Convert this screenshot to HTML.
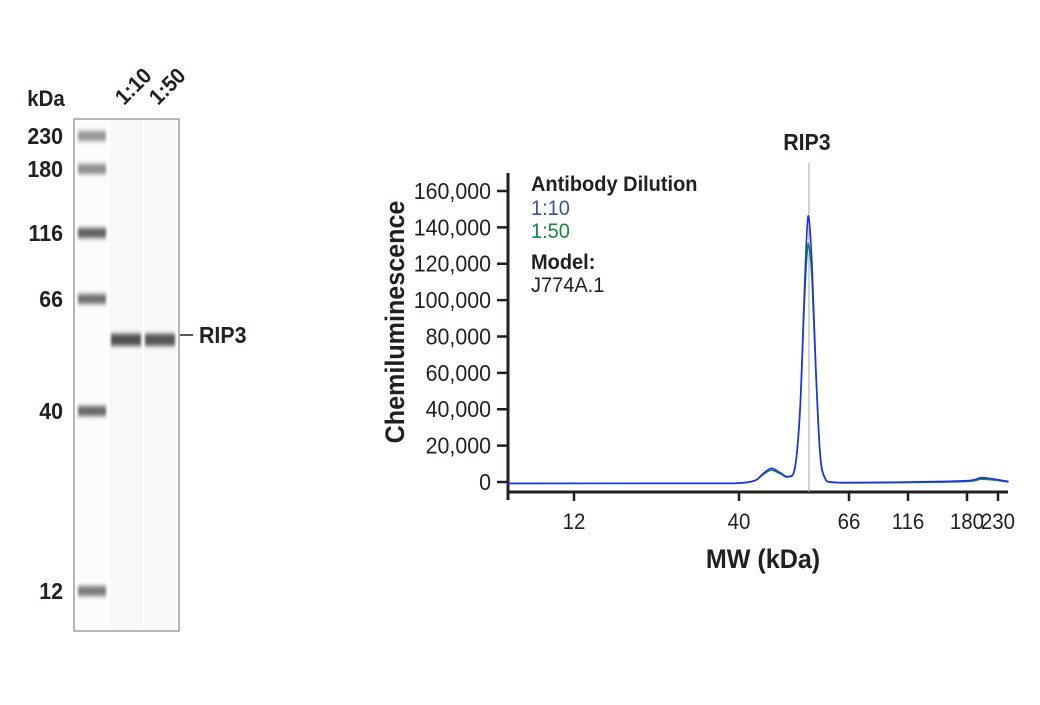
<!DOCTYPE html>
<html><head><meta charset="utf-8"><style>
body{margin:0;background:#fff;}
svg text{font-family:"Liberation Sans Narrow","Liberation Sans",sans-serif;fill:#231f20;}
</style></head><body>
<svg width="1040" height="700" viewBox="0 0 1040 700" xmlns="http://www.w3.org/2000/svg">
<defs>
<filter id="blur" x="-20%" y="-100%" width="140%" height="300%"><feGaussianBlur stdDeviation="1.2 2.4"/></filter>
</defs>
<g id="gel">
<rect x="74" y="119" width="105" height="512" fill="#fcfcfc" stroke="#888" stroke-width="1.2"/>
<rect x="110" y="120" width="32" height="510" fill="#f8f8f8"/>
<rect x="144" y="120" width="32" height="510" fill="#f8f8f8"/>
</g>
<text x="46" y="106" font-size="22" font-weight="bold" text-anchor="middle">kDa</text>
<text x="124" y="106" font-size="22" font-weight="bold" transform="rotate(-45 124 106)">1:10</text>
<text x="158" y="106" font-size="22" font-weight="bold" transform="rotate(-45 158 106)">1:50</text>
<line x1="180" y1="335" x2="193" y2="335" stroke="#231f20" stroke-width="1.5"/>
<text x="199" y="343" font-size="23" font-weight="bold">RIP3</text>
<g id="chart"></g>
</svg>
<script>
const ladderMW=[230,180,116,66,40,12];
const ladderIntensity=[0.55,0.6,0.85,0.75,0.8,0.7];
const sampleBandMW=55;
const sampleIntensity=[0.88,0.85];
const yTicks=[0,20000,40000,60000,80000,100000,120000,140000,160000];
const yTickLabels=["0","20,000","40,000","60,000","80,000","100,000","120,000","140,000","160,000"];
const xTicks=[12,40,66,116,180,230];
const xTickLabels=["12","40","66","116","180","230"];
const mw=[7.4,30,40,43,44.4,46.3,48.3,50,51.6,52.8,53.8,54.5,55,55.8,56.8,57.9,59.2,61.1,66,116,180,200,215,250];
const series1=[-800,-700,-600,800,4000,7500,5000,3000,8000,40000,100000,138000,145000,118000,60000,15000,2000,0,-300,0,700,2300,2000,300];
const series2=[-800,-700,-600,700,3600,6500,4500,2800,7500,38000,95000,125000,130000,110000,58000,14000,1800,-200,-500,-300,300,1500,1300,0];
const NS="http://www.w3.org/2000/svg";
function mk(tag,attrs,parent){const e=document.createElementNS(NS,tag);for(const k in attrs)e.setAttribute(k,attrs[k]);parent.appendChild(e);return e;}
const gelAnch=[[230,136],[180,169],[116,233],[66,299],[40,411],[12,591]];
function gelY(m){const l=Math.log(m);for(let i=0;i<gelAnch.length-1;i++){const a=gelAnch[i],b=gelAnch[i+1];if(l<=Math.log(a[0])&&l>=Math.log(b[0])||i==gelAnch.length-2){const t=(Math.log(a[0])-l)/(Math.log(a[0])-Math.log(b[0]));return a[1]+t*(b[1]-a[1]);}}}
const gel=document.getElementById('gel');
const svg=document.querySelector('svg');
ladderMW.forEach((m,i)=>{const y=gelY(m);const g=Math.round(255-ladderIntensity[i]*190);
 const r=mk('rect',{x:78,y:y-5,width:28,height:10,fill:`rgb(${g},${g},${g})`,filter:'url(#blur)'},gel);
 
 
 const t=mk('text',{x:63,y:y+8,'font-size':23,'font-weight':'bold','text-anchor':'end'},svg);t.textContent=m;
 
 
});
[111,145].forEach((x,i)=>{const y=gelY(sampleBandMW);const g=Math.round(255-sampleIntensity[i]*200);
 const r=mk('rect',{x:x,y:y-6,width:30,height:12,fill:`rgb(${g},${g},${g})`,filter:'url(#blur)'},gel);
 
 
});
const ch=document.getElementById('chart');
const xAnch=[[12,574],[40,739],[66,849],[116,908],[180,967],[230,998]];
function xS(m){const l=Math.log(m);let i=0;if(l<Math.log(xAnch[0][0]))i=0;else{for(i=0;i<xAnch.length-2;i++){if(l<=Math.log(xAnch[i+1][0]))break;}}
 const a=xAnch[i],b=xAnch[i+1];return a[1]+(l-Math.log(a[0]))/(Math.log(b[0])-Math.log(a[0]))*(b[1]-a[1]);}
function yS(v){return 482-v/160000*291;}
mk('line',{x1:508,y1:173,x2:508,y2:500,stroke:'#231f20','stroke-width':3},ch);
mk('line',{x1:507,y1:492,x2:1008,y2:492,stroke:'#231f20','stroke-width':3},ch);
yTicks.forEach((v,i)=>{const y=yS(v);mk('line',{x1:497,y1:y,x2:508,y2:y,stroke:'#231f20','stroke-width':2.5},ch);
 const t=mk('text',{x:491,y:y+8,'font-size':23,'text-anchor':'end'},ch);t.textContent=yTickLabels[i];
 
 });
xTicks.forEach((m,i)=>{const x=xS(m);mk('line',{x1:x,y1:492,x2:x,y2:501,stroke:'#231f20','stroke-width':2.5},ch);
 const t=mk('text',{x:x,y:529,'font-size':22,'text-anchor':'middle'},ch);t.textContent=xTickLabels[i];
 
 });
const xl=mk('text',{x:763,y:568,'font-size':27,'font-weight':'bold','text-anchor':'middle'},ch);xl.textContent='MW (kDa)';


const yl=mk('text',{x:0,y:0,'font-size':27,'font-weight':'bold','text-anchor':'middle',transform:'translate(404 322) rotate(-90)'},ch);yl.textContent='Chemiluminescence';


const px=xS(sampleBandMW);
mk('line',{x1:px,y1:163,x2:px,y2:492,stroke:'#aaa','stroke-width':1},ch);
const rl=mk('text',{x:px-2,y:150,'font-size':23,'font-weight':'bold','text-anchor':'middle'},ch);rl.textContent='RIP3';


function path(vals){const p=mw.map((m,i)=>[xS(m),yS(vals[i])]);let d='M'+p[0][0]+','+p[0][1];
 for(let i=0;i<p.length-1;i++){const p0=p[Math.max(0,i-1)],p1=p[i],p2=p[i+1],p3=p[Math.min(p.length-1,i+2)];
 const c1=[p1[0]+(p2[0]-p0[0])/6,p1[1]+(p2[1]-p0[1])/6],c2=[p2[0]-(p3[0]-p1[0])/6,p2[1]-(p3[1]-p1[1])/6];
 d+=` C${c1[0]},${c1[1]} ${c2[0]},${c2[1]} ${p2[0]},${p2[1]}`;}return d;}
mk('path',{d:path(series2),fill:'none',stroke:'#1a8a3a','stroke-width':1.6},ch);
mk('path',{d:path(series1),fill:'none',stroke:'#1f2ff0','stroke-width':1.6},ch);
const leg=[['Antibody Dilution',191,'bold','#231f20','legend-title'],['1:10',215,'normal','#3a50a8','legend-entry-1-10'],['1:50',238,'normal','#138a3e','legend-entry-1-50'],['Model:',269,'bold','#231f20','model-title'],['J774A.1',292,'normal','#231f20','model-name']];
leg.forEach(l=>{const t=mk('text',{x:531,y:l[1],'font-size':21.5,'font-weight':l[2]},ch);t.style.fill=l[3];t.textContent=l[0];
 
 });
const SX=0.93;
document.querySelectorAll('svg text').forEach(t=>{
 if(t.parentNode.getAttribute('id')==='chart'&&t.getAttribute('transform'))
 {t.setAttribute('transform',t.getAttribute('transform')+` scale(${SX} 1)`);return;}
 const x=+t.getAttribute('x'),y=+t.getAttribute('y');const pre=t.getAttribute('transform')||'';
 t.setAttribute('transform',pre+` translate(${x} ${y}) scale(${SX} 1) translate(${-x} ${-y})`);
});
</script>
</body></html>
